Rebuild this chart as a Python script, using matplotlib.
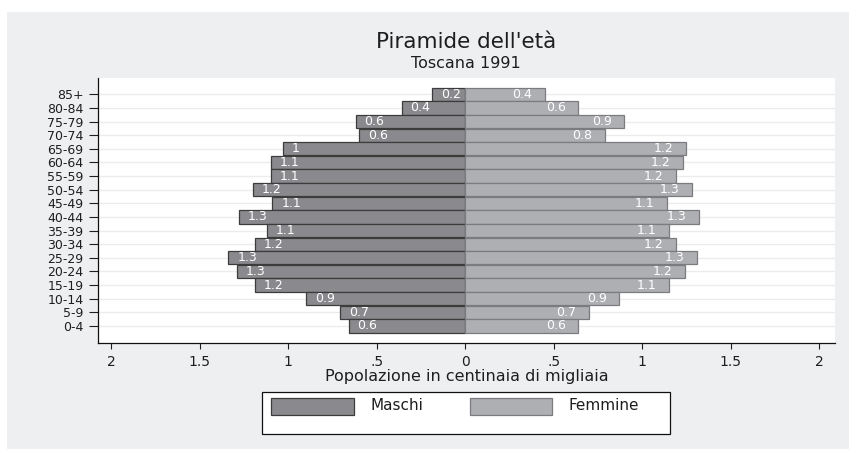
import numpy as np
import matplotlib.pyplot as plt
from matplotlib.patches import Rectangle

plt.rcParams["font.family"] = ["DejaVu Sans"]

# DATA (top row first, as in the picture)
age_groups = ["85+", "80-84", "75-79", "70-74", "65-69", "60-64", "55-59", "50-54", "45-49",
              "40-44", "35-39", "30-34", "25-29", "20-24", "15-19", "10-14", "5-9", "0-4"]
maschi = [0.19, 0.36, 0.62, 0.60, 1.03, 1.10, 1.10, 1.20, 1.09,
          1.28, 1.12, 1.19, 1.34, 1.29, 1.19, 0.90, 0.71, 0.66]
femmine = [0.45, 0.64, 0.90, 0.79, 1.25, 1.23, 1.19, 1.28, 1.14,
           1.32, 1.15, 1.19, 1.31, 1.24, 1.15, 0.87, 0.70, 0.64]
maschi_lbl = ["0.2", "0.4", "0.6", "0.6", "1", "1.1", "1.1", "1.2", "1.1",
              "1.3", "1.1", "1.2", "1.3", "1.3", "1.2", "0.9", "0.7", "0.6"]
femmine_lbl = ["0.4", "0.6", "0.9", "0.8", "1.2", "1.2", "1.2", "1.3", "1.1",
               "1.3", "1.1", "1.2", "1.3", "1.2", "1.1", "0.9", "0.7", "0.6"]
xticks = [-2, -1.5, -1, -0.5, 0, 0.5, 1, 1.5, 2]
xtick_labels = ["2", "1.5", "1", ".5", "0", ".5", "1", "1.5", "2"]

BG = "#eeeff1"
MALE = "#8a8a8e"
FEMALE = "#aeafb3"
INK = "#1e1e1e"

W, H = 849, 449
fig = plt.figure(figsize=(W / 100, H / 100), dpi=100, facecolor="white")

# grey backdrop (white strip on top and left, as in the reference)
fig.patches.append(Rectangle((7 / W, 0), 1, 1 - 12 / H, transform=fig.transFigure,
                             facecolor=BG, edgecolor="none", zorder=-10))

def px(x0, y0, x1, y1):
    return [x0 / W, 1 - y1 / H, (x1 - x0) / W, (y1 - y0) / H]

ax = fig.add_axes(px(98, 78, 835, 343))
ax.set_facecolor("white")

y = np.arange(len(age_groups))[::-1]
m = np.array(maschi)
f = np.array(femmine)

ax.barh(y, -m, height=0.97, color=MALE, edgecolor="#3c3c3c", linewidth=0.9, zorder=3)
ax.barh(y, f, height=0.97, color=FEMALE, edgecolor="#7c7c80", linewidth=0.9, zorder=3)

for yi, v, lbl in zip(y, m, maschi_lbl):
    ax.annotate(lbl, (-v, yi), xytext=(6.5, 0), textcoords="offset points",
                ha="left", va="center", color="white", fontsize=9, zorder=4)
for yi, v, lbl in zip(y, f, femmine_lbl):
    ax.annotate(lbl, (v, yi), xytext=(-9, 0), textcoords="offset points",
                ha="right", va="center", color="white", fontsize=9, zorder=4)

ax.set_xlim(-2.076, 2.09)
ax.set_ylim(-1.25, 18.2)

ax.set_yticks(y)
ax.set_yticklabels(age_groups, fontsize=9)
ax.set_xticks(xticks)
ax.set_xticklabels(xtick_labels, fontsize=10)
ax.tick_params(axis="y", length=6.5, width=0.8, pad=4, colors=INK)
ax.tick_params(axis="x", length=4, width=0.8, pad=5, colors=INK)
ax.grid(axis="y", color="#ececec", linewidth=1, zorder=0)

for s in ["top", "right"]:
    ax.spines[s].set_visible(False)
for s in ["left", "bottom"]:
    ax.spines[s].set_color("#111111")
    ax.spines[s].set_linewidth(0.9)

ax.set_xlabel("Popolazione in centinaia di migliaia", fontsize=11.5, labelpad=0, color=INK)

fig.text(466 / W, 1 - 42 / H, "Piramide dell'età", ha="center", va="center",
         fontsize=15.5, color=INK)
fig.text(466 / W, 1 - 63 / H, "Toscana 1991", ha="center", va="center",
         fontsize=11.5, color=INK)

# legend box
fig.patches.append(Rectangle((262 / W, 1 - 434 / H), (670 - 262) / W, (434 - 392) / H,
                             transform=fig.transFigure, facecolor="white",
                             edgecolor="#111111", linewidth=0.9))
fig.patches.append(Rectangle((271 / W, 1 - 415 / H), (354 - 271) / W, (415 - 398) / H,
                             transform=fig.transFigure, facecolor=MALE,
                             edgecolor="#3c3c3c", linewidth=0.9))
fig.patches.append(Rectangle((470 / W, 1 - 415 / H), (552 - 470) / W, (415 - 398) / H,
                             transform=fig.transFigure, facecolor=FEMALE,
                             edgecolor="#7c7c80", linewidth=0.9))
fig.text(370 / W, 1 - 406 / H, "Maschi", ha="left", va="center", fontsize=11, color=INK)
fig.text(568 / W, 1 - 406 / H, "Femmine", ha="left", va="center", fontsize=11, color=INK)

fig.savefig("out.png", dpi=100, facecolor=fig.get_facecolor())
